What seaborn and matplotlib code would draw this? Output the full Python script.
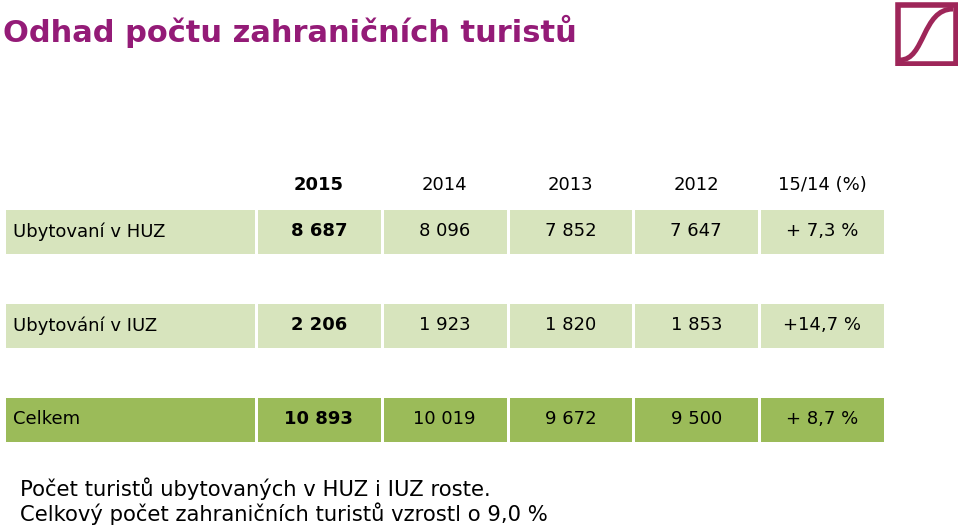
"""
Odhad počtu zahraničních turistů - table rebuilt with seaborn heatmaps
"""
import numpy as np
import matplotlib.pyplot as plt
import seaborn as sns
from matplotlib.colors import ListedColormap
from matplotlib.path import Path
from matplotlib.patches import PathPatch, Rectangle

# Data
title = "Odhad počtu zahraničních turistů"
columns = ["2015", "2014", "2013", "2012", "15/14 (%)"]
row_labels = ["Ubytovaní v HUZ", "Ubytování v IUZ", "Celkem"]
huz = [8687, 8096, 7852, 7647]
iuz = [2206, 1923, 1820, 1853]
total = [10893, 10019, 9672, 9500]
change = ["+ 7,3 %", "+14,7 %", "+ 8,7 %"]
row_shade = [0, 0, 1]  # 0 = light green, 1 = dark green
notes = ["Počet turistů ubytovaných v HUZ i IUZ roste.",
         "Celkový počet zahraničních turistů vzrostl o 9,0 %"]

LIGHT = '#d7e4bd'
DARK = '#9bbb59'
PURPLE = '#941b77'
LOGO = '#9e2659'

sns.set_theme(style='white')
plt.rcParams['font.family'] = ['DejaVu Sans']
plt.rcParams['text.color'] = 'black'

W, H = 960, 525
fig = plt.figure(figsize=(W / 100, H / 100), dpi=100)


def fig_rect(x0, y0, x1, y1):
    # pixel box (top-left origin) -> figure fraction
    return [x0 / W, 1 - y1 / H, (x1 - x0) / W, (y1 - y0) / H]


def fmt(v):
    return f"{v:,}".replace(",", " ")


# grid with spacer rows between the three data rows
values = [huz, iuz, total]
n_rows = 2 * len(row_labels) - 1
shade = np.full((n_rows, len(columns)), np.nan)
annot = np.full((n_rows, len(columns)), "", dtype=object)
for i, (vals, pct, s) in enumerate(zip(values, change, row_shade)):
    shade[2 * i, :] = s
    annot[2 * i, :] = [fmt(v) for v in vals] + [pct]

cmap = ListedColormap([LIGHT, DARK])

# value cells
ax = fig.add_axes(fig_rect(256, 208, 885, 443))
sns.heatmap(shade, ax=ax, cmap=cmap, vmin=0, vmax=1, cbar=False,
            linewidths=2, linecolor='white', annot=annot, fmt='',
            xticklabels=False, yticklabels=False,
            annot_kws={'fontsize': 13, 'color': 'black'})
for t in ax.texts:
    t.set_color('black')
    x, y = t.get_position()
    if x < 1:
        t.set_fontweight('bold')

for j, c in enumerate(columns):
    ax.text(j + 0.5, -0.5, c, ha='center', va='center', fontsize=13,
            fontweight='bold' if j == 0 else 'normal', clip_on=False)

# label cells
ax_lab = fig.add_axes(fig_rect(4, 208, 256, 443))
sns.heatmap(shade[:, :1], ax=ax_lab, cmap=cmap, vmin=0, vmax=1, cbar=False,
            linewidths=2, linecolor='white',
            xticklabels=False, yticklabels=False)
for i, lab in enumerate(row_labels):
    ax_lab.text(0.036, 2 * i + 0.5, lab, ha='left', va='center', fontsize=13)

# title and notes
fig.text(3 / W, 1 - 31 / H, title, ha='left', va='center', fontsize=22,
         fontweight='bold', color=PURPLE)
for k, line in enumerate(notes):
    fig.text(20 / W, 1 - (489 + 25 * k) / H, line, ha='left', va='center',
             fontsize=15.2, color='black')

# logo
ax_logo = fig.add_axes(fig_rect(895, 2, 958, 66))
ax_logo.set_xlim(0, 63)
ax_logo.set_ylim(0, 64)
ax_logo.axis('off')
ax_logo.add_patch(Rectangle((2.5, 2.5), 58, 59, fill=False, lw=4, edgecolor=LOGO))
curve = Path([(5, 6), (30, 6), (27, 57), (58, 57)],
             [Path.MOVETO, Path.CURVE4, Path.CURVE4, Path.CURVE4])
ax_logo.add_patch(PathPatch(curve, fill=False, lw=3.6, edgecolor=LOGO))

plt.savefig('out.png', dpi=100)
